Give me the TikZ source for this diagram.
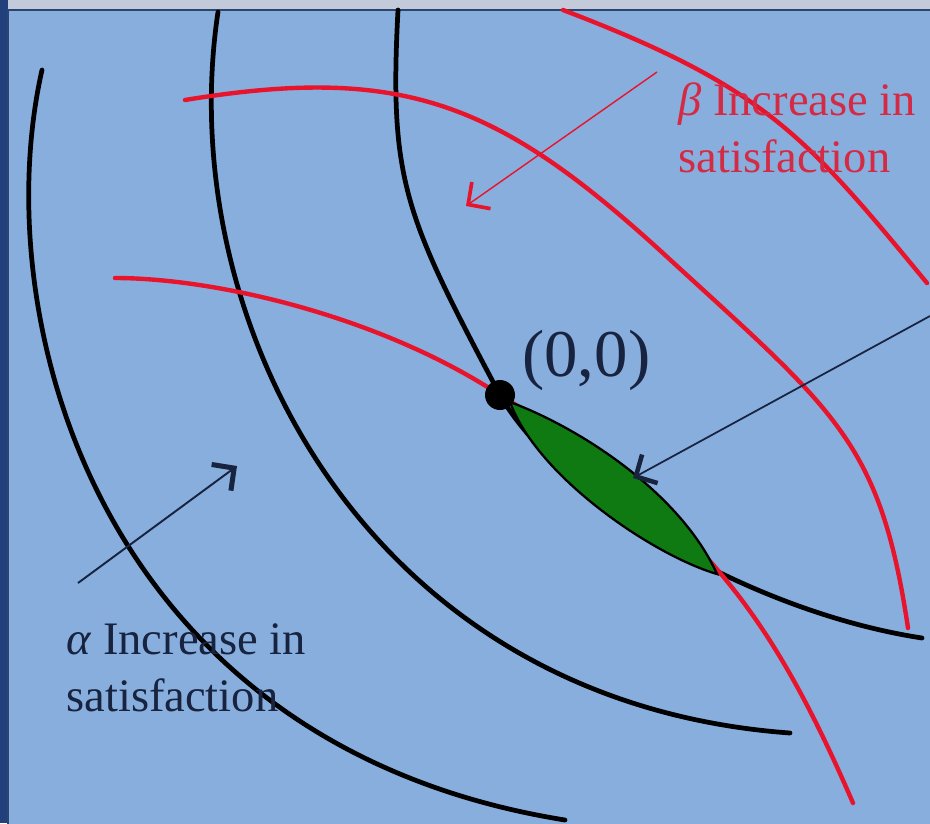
\documentclass[tikz,border=0pt]{standalone}
\usepackage{fontspec}
\setmainfont{Liberation Serif}
\usepackage{xcolor}
\usetikzlibrary{arrows.meta,positioning}
\definecolor{slidebg}{HTML}{88AEDE}
\definecolor{slidetop}{HTML}{C3CAD9}
\definecolor{slideleft}{HTML}{22407C}
\definecolor{framecol}{HTML}{2C4470}
\definecolor{curvered}{HTML}{E8142C}
\definecolor{textred}{HTML}{D42A44}
\definecolor{textdark}{HTML}{17233F}
\definecolor{lensgreen}{HTML}{0F7A12}

\begin{document}
\begin{tikzpicture}[x=0.02cm, y=-0.02cm,
    alphacurve/.style={draw=black, line width=2.7pt, line cap=round},
    betacurve/.style={draw=curvered, line width=2.5pt, line cap=round},
    pointer/.style={-{Straight Barb[length=3.2mm, width=6.5mm, line width=0pt 2.6]}, line width=1pt},
    every node/.style={inner sep=0pt, font=\fontsize{26.5}{32}\selectfont}]
      \useasboundingbox (0,0) rectangle (930,823);
      \fill[slidetop] (0,0) rectangle (930,823);
      \fill[slideleft] (0,0) rectangle (8,823);
      \filldraw[fill=slidebg, draw=framecol, line width=1.2pt] (8,10) rectangle (932,825);

      \draw[alphacurve] (42,70) .. controls (-14,318) and (97,745) .. (565,820);
      \draw[alphacurve] (218,12) .. controls (172,318) and (364,702) .. (790,733);
      \draw[alphacurve] (398,10) .. controls (389,182) and (405,216) .. (500,395)
                                  .. controls (560,500) and (752,612) .. (922,638);

      \draw[betacurve] (115,278) .. controls (215,278) and (380,316) .. (500,395)
                                 .. controls (696,517) and (767,604) .. (853,803);
      \draw[betacurve] (185,100) .. controls (404,64) and (499,103) .. (665,255)
                                 .. controls (836,412) and (880,441) .. (908,628);
      \draw[betacurve] (563,10) .. controls (765,87) and (805,135) .. (927,283);

      \filldraw[fill=lensgreen, draw=black, line width=1.3pt]
        (510,402) .. controls (585,430) and (682,496) .. (717,574)
                  .. controls (655,556) and (538,478) .. (510,402) -- cycle;

      \node[circle, fill=black, minimum size=6mm] (origin) at (500,395) {};
      \node[anchor=base west, font=\fontsize{38}{42}\selectfont, text=textdark] (zerolabel) at (522,376) {(0,0)};

      \node[anchor=base west, align=left, text=textred] (betatext) at (678,172) {\textit{β} Increase in\\satisfaction};
      \node[anchor=base west, align=left, text=textdark] (alphatext) at (66,711) {\textit{α} Increase in\\satisfaction};

      \coordinate (betastart) at (657,72);
      \coordinate (betaend) at (466,206);
      \coordinate (alphastart) at (78,583);
      \coordinate (alphaend) at (237,466);
      \coordinate (calloutstart) at (930,316);
      \coordinate (lenstip) at (633,478);

      \draw[pointer, curvered, line width=0.8pt] (betastart) -- (betaend);
      \draw[pointer, textdark, line width=1.1pt] (alphastart) -- (alphaend);
      \draw[pointer, textdark] (calloutstart) -- (lenstip);
    \end{tikzpicture}
\end{document}
